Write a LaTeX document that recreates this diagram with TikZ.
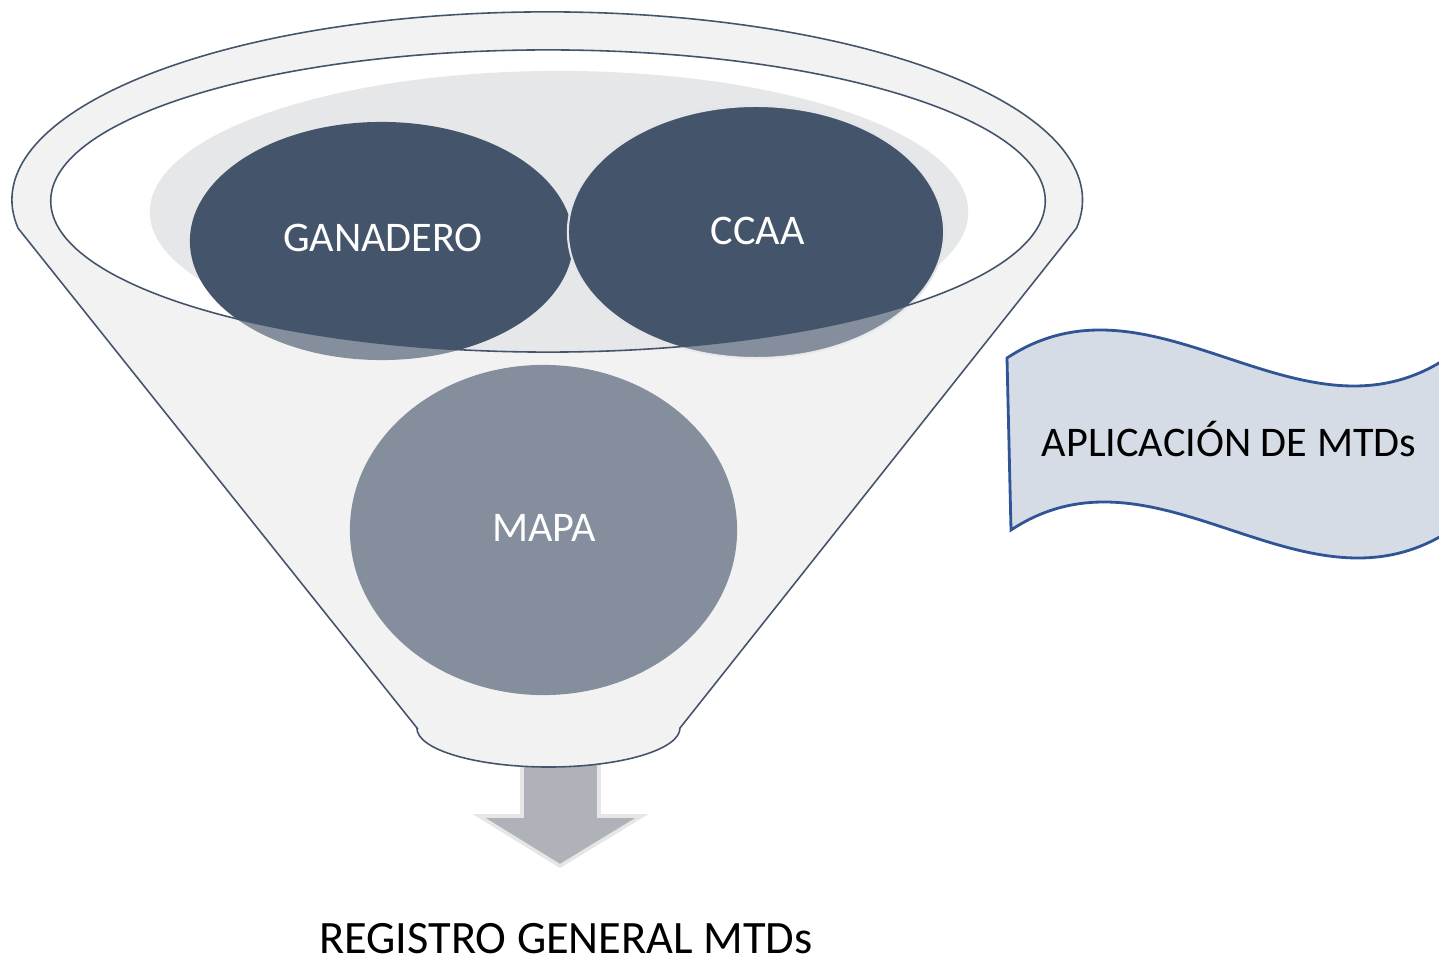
\documentclass[tikz,border=0pt]{standalone}
\usepackage{fontspec}
\setmainfont{Carlito}
\definecolor{navy}{HTML}{44546A}
\definecolor{funnelgray}{HTML}{F2F2F2}
\definecolor{innergray}{HTML}{E6E7E9}
\definecolor{arrowgray}{HTML}{AFB2B9}
\definecolor{arrowedge}{HTML}{E6E6E6}
\definecolor{wavefill}{HTML}{D6DCE5}
\definecolor{waveline}{HTML}{2F5597}
\tikzset{
  outline/.style={draw=navy, line width=0.45pt},
  disc/.style={fill=navy},
  whitelabel/.style={text=white, font=\fontsize{12}{14}\selectfont, anchor=base, inner sep=0pt},
  blacklabel/.style={text=black, font=\fontsize{12}{14}\selectfont, anchor=base, inner sep=0pt}
}
\def\funnelshape{(417,232) -- (18,731.9) arc[start angle=188.6, end angle=-8.6, x radius=5.35cm, y radius=1.88cm] -- (680,232) arc[start angle=0, end angle=-180, x radius=1.315cm, y radius=0.39cm] -- cycle}
\def\innershape{(548,759) ellipse[x radius=4.97cm, y radius=1.51cm]}
\begin{document}
\begin{tikzpicture}[x=0.01cm, y=0.01cm]
\useasboundingbox (0,0) rectangle (1439,960);
\begin{scope}
\clip (0,0) rectangle (1439,960);
% down arrow
\path[fill=arrowgray, draw=arrowedge, line width=1pt]
  (522,200) -- (522,144) -- (479,144) -- (560,94) -- (642,144) -- (599,144) -- (599,200) -- cycle;
% funnel body
\path[fill=funnelgray] \funnelshape;
\path[fill=white] \innershape;
\path[fill=innergray] (559,748) ellipse[x radius=4.09cm, y radius=1.41cm];
% discs
\path[disc] (381.5,719) ellipse[x radius=1.915cm, y radius=1.19cm];
\path[disc, draw=white!85!navy, line width=0.6pt] (756,728) ellipse[x radius=1.88cm, y radius=1.26cm];
\path[disc] (543.5,430) ellipse[x radius=1.935cm, y radius=1.65cm];
% front face of funnel
\path[fill=funnelgray, fill opacity=0.37, even odd rule] \funnelshape \innershape;
% outlines
\path[outline] \funnelshape;
\path[outline] \innershape;
% wave banner
\path[fill=wavefill, draw=waveline, line width=0.8pt]
  (1007,602) .. controls (1154,699) and (1300,505) .. (1447,602)
  -- (1451,430) .. controls (1304,333) and (1158,527) .. (1011,430) -- cycle;
\end{scope}
% labels
\node[whitelabel] (ganadero) at (383,708) {GANADERO};
\node[whitelabel] (ccaa) at (757.5,715) {CCAA};
\node[whitelabel] (mapa) at (544,418) {MAPA};
\node[blacklabel] (aplic) at (1229,503) {APLICACIÓN DE MTDs};
\node[blacklabel, font=\fontsize{13.2}{15}\selectfont] (registro) at (566,7) {REGISTRO GENERAL MTDs};
\end{tikzpicture}
\end{document}
